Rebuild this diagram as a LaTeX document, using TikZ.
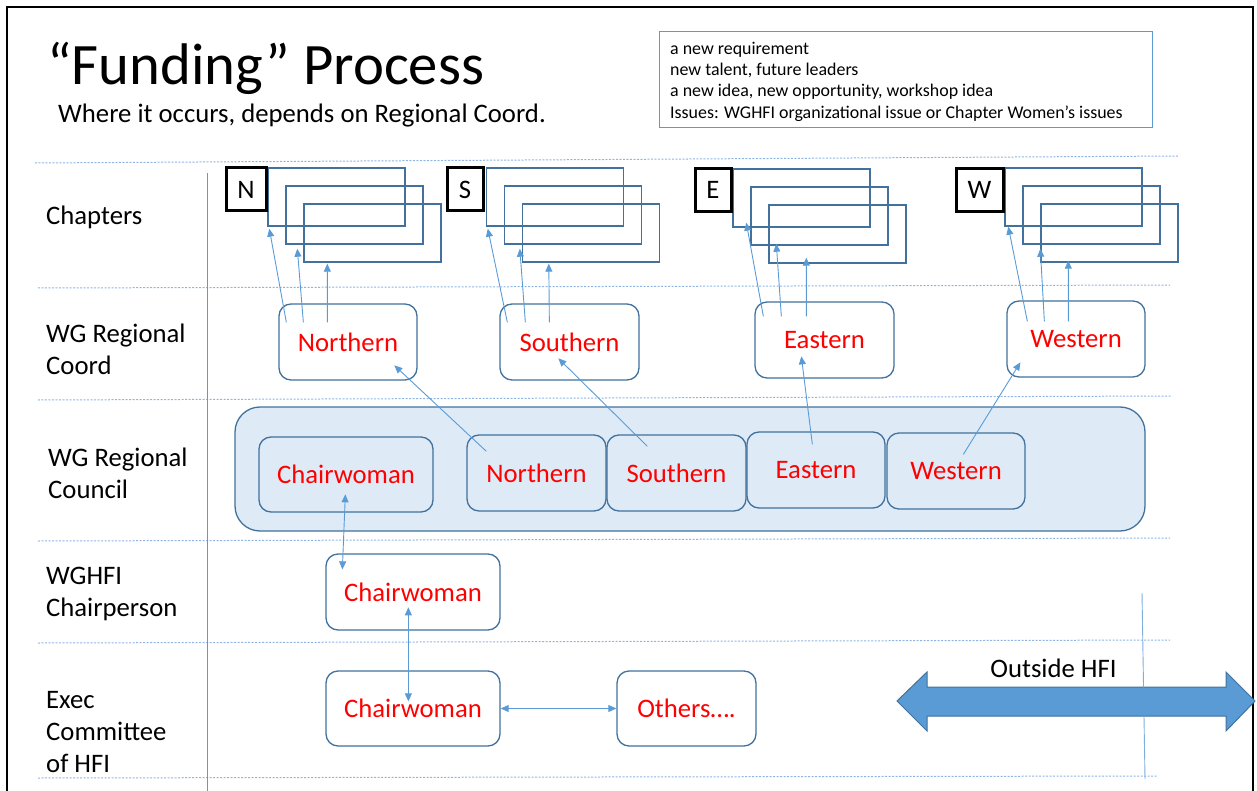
\documentclass[tikz,border=0pt]{standalone}
\usepackage{fontspec}
\setmainfont{Carlito}
\usetikzlibrary{arrows.meta,calc}
\definecolor{bstroke}{HTML}{41719C}
\definecolor{arr}{HTML}{5B9BD5}
\definecolor{cfill}{HTML}{DEEBF7}
\definecolor{dotc}{HTML}{8EB4E3}
\definecolor{tred}{HTML}{FF0000}
\begin{document}
\begin{tikzpicture}[x=1pt,y=-1pt,
  lab/.style={anchor=base west, inner sep=0pt, font=\fontsize{26.7}{32}\selectfont},
  note/.style={anchor=base west, inner sep=0pt, font=\fontsize{17.9}{21}\selectfont},
  rbox/.style={draw=bstroke, line width=1.3pt, rounded corners=12pt, fill=white, text=tred,
    font=\fontsize{26.7}{32}\selectfont, inner sep=0pt},
  cbox/.style={rbox, fill=cfill},
  chap/.style={draw=bstroke, line width=1.4pt, minimum width=137pt, minimum height=58pt, inner sep=0pt},
  letter/.style={draw=black, line width=3pt, fill=white, minimum height=43pt, inner sep=0pt,
    font=\fontsize{26.7}{30}\selectfont},
  dotline/.style={draw=dotc, line width=1pt, dash pattern=on 2pt off 1.5pt},
  vline/.style={draw=arr, line width=0.9pt},
  ar/.style={draw=arr, line width=0.9pt, -{Triangle[length=8pt,width=7pt]}},
  dar/.style={draw=arr, line width=0.9pt, {Triangle[length=8pt,width=7pt]}-{Triangle[length=8pt,width=7pt]}}
]
\useasboundingbox (0,0) rectangle (1257,791);
% border
\draw[black, line width=2pt] (7,800) -- (7,7) -- (1253,7) -- (1253,800);

% dotted separators
\draw[dotline] (35,163) -- (1178,156);
\draw[dotline] (38,288) -- (1170,285);
\draw[dotline] (38,400) -- (1172,396);
\draw[dotline] (38,541) -- (1170,538);
\draw[dotline] (38,643) -- (1170,640);
\draw[dotline] (38,778) -- (1158,776);
\draw[vline] (207,173) -- (207,791);

% title
\node[anchor=base west, inner sep=0pt, font=\fontsize{58.7}{70}\selectfont] (title) at (47,85) {“Funding” Process};
\node[lab] (subtitle) at (58,123) {Where it occurs, depends on Regional Coord.};

% notes box
\node[draw=arr, line width=1pt, minimum width=493pt, minimum height=96pt, inner sep=0pt] (notes) at (905.5,80) {};
\node[note] (nt1) at (670,54.5) {a new requirement};
\node[note] (nt2) at (670,75.8) {new talent, future leaders};
\node[note] (nt3) at (670,97) {a new idea, new opportunity, workshop idea};
\node[note] (nt4) at (670,118.3) {Issues: WGHFI organizational issue or Chapter Women’s issues};

% row labels
\node[lab] (l1) at (46,225) {Chapters};
\node[lab] (l2a) at (46,342) {WG Regional};
\node[lab] (l2b) at (46,374) {Coord};
\node[lab] (l3a) at (48,466) {WG Regional};
\node[lab] (l3b) at (48,498) {Council};
\node[lab] (l4a) at (46,584) {WGHFI};
\node[lab] (l4b) at (46,616) {Chairperson};
\node[lab] (l5a) at (46,708) {Exec};
\node[lab] (l5b) at (46,740) {Committee};
\node[lab] (l5c) at (46,772) {of HFI};

% chapter stacks
\node[chap] (n1) at (336.5,197) {};
\node[chap] (n2) at (354.5,215) {};
\node[chap] (n3) at (372.5,233) {};
\node[letter, minimum width=40pt] (nL) at (246,189.5) {N};
\node[chap] (s1) at (555,197) {};
\node[chap] (s2) at (573,215) {};
\node[chap] (s3) at (591,233) {};
\node[letter, minimum width=36pt] (sL) at (465,189.5) {S};
\node[chap] (e1) at (801.5,198) {};
\node[chap] (e2) at (819.5,216) {};
\node[chap] (e3) at (837.5,234) {};
\node[letter, minimum width=36pt] (eL) at (713,190) {E};
\node[chap] (w1) at (1073.5,197) {};
\node[chap] (w2) at (1091.5,215) {};
\node[chap] (w3) at (1109.5,233) {};
\node[letter, minimum width=47pt] (wL) at (979.5,190) {W};

% regional coord
\node[rbox, minimum width=138pt, minimum height=76pt] (cN) at (348,342) {Northern};
\node[rbox, minimum width=139pt, minimum height=76pt] (cS) at (569.5,342) {Southern};
\node[rbox, minimum width=139pt, minimum height=76pt] (cE) at (824.5,340) {Eastern};
\node[rbox, minimum width=138pt, minimum height=76pt] (cW) at (1076,339) {Western};

% regional council
\node[draw=bstroke, line width=1.3pt, fill=cfill, rounded corners=25pt, minimum width=910pt, minimum height=124pt, inner sep=0pt] (council) at (690,469) {};
\node[cbox, minimum width=174pt, minimum height=75pt] (kC) at (346,474.5) {Chairwoman};
\node[cbox, minimum width=139pt, minimum height=76pt] (kN) at (536.5,473) {Northern};
\node[cbox, minimum width=139pt, minimum height=76pt] (kS) at (676.5,473) {Southern};
\node[cbox, minimum width=138pt, minimum height=76pt] (kE) at (816,470) {Eastern};
\node[cbox, minimum width=138pt, minimum height=76pt] (kW) at (956,471) {Western};

% WGHFI and exec
\node[rbox, minimum width=174pt, minimum height=76pt] (hC) at (413,592) {Chairwoman};
\node[rbox, minimum width=174pt, minimum height=75pt] (xC) at (413,708.5) {Chairwoman};
\node[rbox, minimum width=139pt, minimum height=75pt] (xO) at (686.5,708.5) {Others….};

% chapter arrows
\draw[ar] ($(cN.north west)+(8,19)$) -- ($(n1.south west)+(2,2)$);
\draw[ar] ($(cN.north west)+(25,19)$) -- ($(n2.south west)+(12,4)$);
\draw[ar] ($(cN.north west)+(49,19)$) -- ($(n3.south west)+(24,1)$);
\draw[ar] ($(cS.north west)+(8,19)$) -- ($(s1.south west)+(2,2)$);
\draw[ar] ($(cS.north west)+(26,19)$) -- ($(s2.south west)+(16,4)$);
\draw[ar] ($(cS.north west)+(50,19)$) -- ($(s3.south west)+(27,1)$);
\draw[ar] ($(cE.north west)+(9,15)$) -- ($(e1.south west)+(14,-5)$);
\draw[ar] ($(cE.north west)+(27,15)$) -- ($(e2.south west)+(26,-2)$);
\draw[ar] ($(cE.north west)+(52,15)$) -- ($(e3.south west)+(38,-6)$);
\draw[ar] ($(cW.north west)+(21,21)$) -- ($(w1.south west)+(4,0)$);
\draw[ar] ($(cW.north west)+(38,21)$) -- ($(w2.south west)+(18,4)$);
\draw[ar] ($(cW.north west)+(62,21)$) -- ($(w3.south west)+(28,-2)$);

% council to coord
\draw[ar] ($(kN.north west)+(20,17)$) -- ($(cN.north west)+(116,62)$);
\draw[ar] ($(kS.north west)+(41,12)$) -- ($(cS.north west)+(59,55)$);
\draw[ar] ($(kE.north west)+(66,13)$) -- ($(cE.north west)+(47,55)$);
\draw[ar] ($(kW.north west)+(77,22)$) -- ($(cW.north west)+(14,62)$);

% chair links
\draw[dar] ($(kC.north west)+(87,58)$) -- ($(hC.north west)+(17,16)$);
\draw[dar] ($(hC.north west)+(83,54)$) -- ($(xC.north west)+(83,31)$);
\draw[dar] (xC.east) -- (xO.west);

% outside HFI
\path[fill=arr, draw=bstroke, line width=1pt] (897,701) -- (927,672) -- (927,687) -- (1226,687) -- (1226,672)
  -- (1255,701) -- (1226,731) -- (1226,716) -- (927,716) -- (927,731) -- cycle;
\node[anchor=base, inner sep=0pt, font=\fontsize{26.7}{32}\selectfont] (outside) at (1053.5,677) {Outside HFI};
\draw[vline, draw opacity=0.8] (1142,593) -- (1145,779);
\end{tikzpicture}
\end{document}
